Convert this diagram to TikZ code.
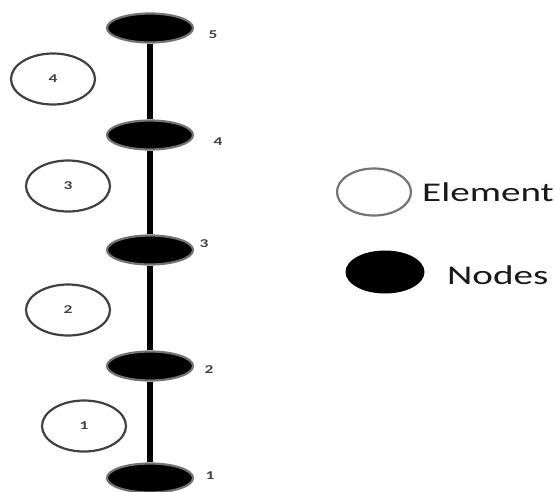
\documentclass[tikz,border=0pt]{standalone}
\usepackage{fontspec}
\setmainfont{Carlito}
\usepackage{graphicx}
\usetikzlibrary{shapes.geometric}

% stretched text, as the labels are drawn wide
\newcommand{\widetext}[1]{\scalebox{1.45}[1]{#1}}

\begin{document}
\begin{tikzpicture}[
        x=1pt, y=-1pt,
        elem/.style = {draw=black!75, line width=2.2pt, fill=white, ellipse,
                       inner sep=0pt, minimum width=84pt, minimum height=51pt,
                       font=\bfseries\fontsize{12}{12}\selectfont, text=black!75},
        joint/.style = {draw=black!55, line width=2.2pt, fill=black, ellipse,
                        inner sep=0pt, minimum width=86pt, minimum height=29pt},
        num/.style = {font=\bfseries\fontsize{12}{12}\selectfont, text=black!75,
                      inner sep=0pt},
        legend/.style = {font=\fontsize{27}{27}\selectfont, text=black!90,
                         anchor=west, inner sep=0pt},
        bar/.style = {line width=6pt},
        ]
        \useasboundingbox (0,0) rectangle (555,491);

        % nodes of the bar
        \node [joint] (n5) at (150,28)  {};
        \node [joint] (n4) at (150,135) {};
        \node [joint] (n3) at (150,250) {};
        \node [joint] (n2) at (150,366) {};
        \node [joint] (n1) at (150,478) {};

        \draw [bar] (n1) -- (n2) -- (n3) -- (n4) -- (n5);

        \node [num] (l5) at (213,35)  {\widetext{5}};
        \node [num] (l4) at (218,142) {\widetext{4}};
        \node [num] (l3) at (204,244) {\widetext{3}};
        \node [num] (l2) at (209,370) {\widetext{2}};
        \node [num] (l1) at (210,476) {\widetext{1}};

        % elements between the nodes
        \node [elem] (e4) at (53,79)  {\widetext{4}};
        \node [elem] (e3) at (68,186) {\widetext{3}};
        \node [elem] (e2) at (68,310) {\widetext{2}};
        \node [elem] (e1) at (84,426) {\widetext{1}};

        % legend
        \node [elem, draw=black!55, minimum width=74pt, minimum height=47pt]
            (keyelem) at (374,192) {};
        \node [joint, draw=none, minimum width=79pt, minimum height=43pt]
            (keynode) at (385,272) {};
        \node [legend] (keyelemtxt) at (422,192) {\widetext{Element}};
        \node [legend] (keynodetxt) at (447,275) {\widetext{Nodes}};
    \end{tikzpicture}
\end{document}
